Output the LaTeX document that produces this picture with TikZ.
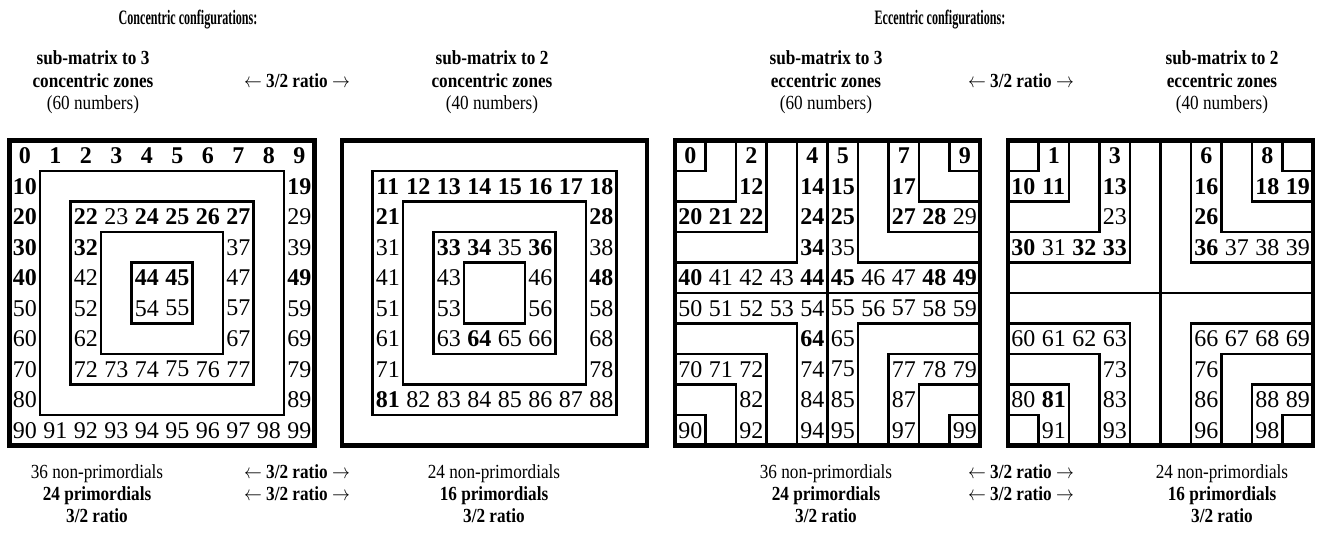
\documentclass[tikz,border=0pt]{standalone}
\usepackage{fontspec}
\setmainfont{Liberation Serif}
\usepackage{graphicx}
\tikzset{
  num/.style={inner sep=0pt, font=\fontsize{24}{24}\selectfont},
  bnum/.style={inner sep=0pt, font=\fontsize{24}{24}\selectfont\bfseries},
  frame/.style={line width=4.3pt},
  zone/.style={line width=2.7pt},
  txt/.style={inner sep=0pt, anchor=base, font=\fontsize{20}{22}\selectfont},
  btxt/.style={inner sep=0pt, anchor=base, font=\fontsize{20}{22}\selectfont\bfseries},
  htxt/.style={inner sep=0pt, anchor=base, font=\fontsize{20.5}{22}\selectfont\bfseries},
}
\newcommand\sq[1]{\scalebox{0.86}[1]{#1}}
\newcommand\hsq[1]{\scalebox{0.59}[1]{#1}}
\newcommand\putnums[4]{%
  \foreach \n in {#3}{%
    \pgfmathtruncatemacro\rr{(\n+0.5)/10}%
    \pgfmathtruncatemacro\cc{\n-10*\rr}%
    \node[#2] (#4\n) at ({#1+(\cc+0.5)*\u},{\T+(\rr+0.5)*\u}) {\n};
  }}
\newcommand\ratiotxt{\sq{$\leftarrow$ \textbf{3/2 ratio} $\rightarrow$}}
\begin{document}
\begin{tikzpicture}[x=1pt,y=-1pt]
\useasboundingbox (0,0) rectangle (1323,540);
\def\u{30.5}\def\T{140.5}
% concentric squares
\foreach \X in {9.5,342}{
  \foreach \k in {1,...,4}
    \draw[zone] ({\X+\k*\u},{\T+\k*\u}) rectangle ({\X+(10-\k)*\u},{\T+(10-\k)*\u});
  \draw[frame] (\X,\T) rectangle ({\X+10*\u},{\T+10*\u});
}
% eccentric squares
\foreach \X in {675,1008}{
  \foreach \k in {1,...,4}{
    \draw[zone] ({\X+\k*\u},\T) |- (\X,{\T+\k*\u});
    \draw[zone] ({\X+(10-\k)*\u},\T) |- ({\X+10*\u},{\T+\k*\u});
    \draw[zone] ({\X+\k*\u},{\T+10*\u}) |- (\X,{\T+(10-\k)*\u});
    \draw[zone] ({\X+(10-\k)*\u},{\T+10*\u}) |- ({\X+10*\u},{\T+(10-\k)*\u});
  }
  \draw[zone] ({\X+5*\u},\T) -- ({\X+5*\u},{\T+10*\u});
  \draw[zone] (\X,{\T+5*\u}) -- ({\X+10*\u},{\T+5*\u});
  \draw[frame] (\X,\T) rectangle ({\X+10*\u},{\T+10*\u});
}
% numbers
\putnums{9.5}{bnum}{0,1,2,3,4,5,6,7,8,9,10,19,20,30,40,49,22,24,25,26,27,32,44,45}{a}
\putnums{9.5}{num}{29,39,50,59,60,69,70,79,80,89,90,91,92,93,94,95,96,97,98,99,23,37,42,47,52,57,62,67,72,73,74,75,76,77,54,55}{a}
\putnums{342}{bnum}{11,12,13,14,15,16,17,18,21,28,48,81,33,34,36,64}{b}
\putnums{342}{num}{31,38,41,51,58,61,68,71,78,82,83,84,85,86,87,88,35,43,46,53,56,63,65,66}{b}
\putnums{675}{bnum}{0,2,4,5,7,9,12,14,15,17,20,21,22,24,25,27,28,34,40,44,45,48,49,64}{c}
\putnums{675}{num}{29,35,41,42,43,46,47,50,51,52,53,54,55,56,57,58,59,65,70,71,72,74,75,77,78,79,82,84,85,87,90,92,94,95,97,99}{c}
\putnums{1008}{bnum}{1,3,6,8,10,11,13,16,18,19,26,30,32,33,36,81}{d}
\putnums{1008}{num}{23,31,37,38,39,60,61,62,63,66,67,68,69,73,76,80,83,86,88,89,91,93,96,98}{d}
% headers
\node[htxt] (hc) at (188,25) {\hsq{Concentric configurations:}};
\node[htxt] (he) at (940,25) {\hsq{Eccentric configurations:}};
% concentric captions
\node[btxt] (ca1) at (93,65) {\sq{sub-matrix to 3}};
\node[btxt] (ca2) at (93,88) {\sq{concentric zones}};
\node[txt]  (ca3) at (93,110) {\sq{(60 numbers)}};
\node[txt]  (cr)  at (297,88) {\ratiotxt};
\node[btxt] (cb1) at (492,65) {\sq{sub-matrix to 2}};
\node[btxt] (cb2) at (492,88) {\sq{concentric zones}};
\node[txt]  (cb3) at (492,110) {\sq{(40 numbers)}};
% eccentric captions
\node[btxt] (ea1) at (826,65) {\sq{sub-matrix to 3}};
\node[btxt] (ea2) at (826,88) {\sq{eccentric zones}};
\node[txt]  (ea3) at (826,110) {\sq{(60 numbers)}};
\node[txt]  (er)  at (1021,88) {\ratiotxt};
\node[btxt] (eb1) at (1222,65) {\sq{sub-matrix to 2}};
\node[btxt] (eb2) at (1222,88) {\sq{eccentric zones}};
\node[txt]  (eb3) at (1222,110) {\sq{(40 numbers)}};
% bottom concentric
\node[txt]  (cn1) at (97,478) {\sq{36 non-primordials}};
\node[btxt] (cp1) at (97,500) {\sq{24 primordials}};
\node[btxt] (cq1) at (97,522) {\sq{3/2 ratio}};
\node[txt]  (cr2) at (297,478) {\ratiotxt};
\node[txt]  (cr3) at (297,500) {\ratiotxt};
\node[txt]  (cn2) at (494,478) {\sq{24 non-primordials}};
\node[btxt] (cp2) at (494,500) {\sq{16 primordials}};
\node[btxt] (cq2) at (494,522) {\sq{3/2 ratio}};
% bottom eccentric
\node[txt]  (en1) at (826,478) {\sq{36 non-primordials}};
\node[btxt] (ep1) at (826,500) {\sq{24 primordials}};
\node[btxt] (eq1) at (826,522) {\sq{3/2 ratio}};
\node[txt]  (er2) at (1021,478) {\ratiotxt};
\node[txt]  (er3) at (1021,500) {\ratiotxt};
\node[txt]  (en2) at (1222,478) {\sq{24 non-primordials}};
\node[btxt] (ep2) at (1222,500) {\sq{16 primordials}};
\node[btxt] (eq2) at (1222,522) {\sq{3/2 ratio}};
\end{tikzpicture}
\end{document}
